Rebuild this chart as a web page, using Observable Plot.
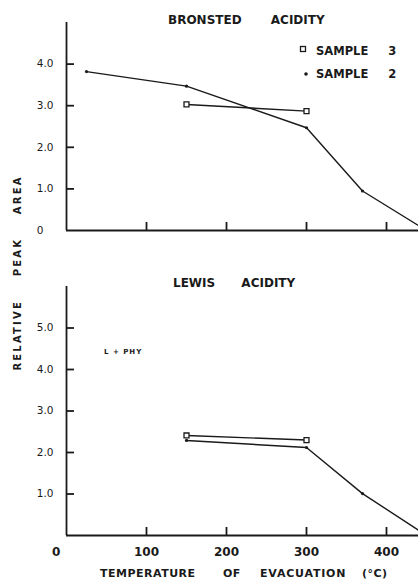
<!DOCTYPE html>
<html>
<head>
<meta charset="utf-8">
<script src="https://cdn.jsdelivr.net/npm/d3@7"></script>
<script src="https://cdn.jsdelivr.net/npm/@observablehq/plot@0.6"></script>
<style>
  html, body { margin: 0; padding: 0; background: #fff; }
  #wrap { position: relative; width: 418px; height: 580px; background: #fff; overflow: hidden;
          font-family: 'DejaVu Sans', sans-serif; font-weight: bold; color: #1a1a1a; }
  .abs { position: absolute; white-space: pre; line-height: 1; }
  #top { position: absolute; left: 0; top: 0; }
  #bot { position: absolute; left: 0; top: 270px; }
</style>
</head>
<body>
<div id="wrap">
  <div id="top"></div>
  <div id="bot"></div>
  <div class="abs" style="left:168px;top:14px;font-size:12px;word-spacing:25px;">BRONSTED ACIDITY</div>
  <div class="abs" style="left:173px;top:277px;font-size:12px;word-spacing:22px;">LEWIS ACIDITY</div>
  <svg class="abs" style="left:299px;top:45px;" width="9" height="9"><rect x="1.5" y="1.5" width="5" height="5" fill="#fff" stroke="#1a1a1a" stroke-width="1.3"/></svg>
  <div class="abs" style="left:316px;top:46px;font-size:11.5px;word-spacing:16px;">SAMPLE 3</div>
  <svg class="abs" style="left:302px;top:70px;" width="8" height="8"><circle cx="4" cy="4" r="1.8" fill="#1a1a1a"/></svg>
  <div class="abs" style="left:316px;top:69px;font-size:11.5px;word-spacing:16px;">SAMPLE 2</div>
  <div class="abs" style="left:104px;top:349px;font-size:7px;letter-spacing:1px;">L + PHY</div>
  <div class="abs" style="left:18px;top:273px;font-size:10px;letter-spacing:2.2px;word-spacing:18px;transform:translate(-50%,-50%) rotate(-90deg);">RELATIVE PEAK AREA</div>
  <div class="abs" style="left:100px;top:568px;font-size:11px;letter-spacing:0.5px;">TEMPERATURE</div>
  <div class="abs" style="left:223px;top:568px;font-size:11px;letter-spacing:0.5px;">OF</div>
  <div class="abs" style="left:260px;top:568px;font-size:11px;letter-spacing:0.8px;">EVACUATION</div>
  <div class="abs" style="left:362px;top:568px;font-size:11px;letter-spacing:0.5px;">(°C)</div>
</div>
<script>
// ---- data ----
const bronstedS2Temps = [25, 150, 300, 370, 450];
const bronstedS2 = [3.82, 3.47, 2.47, 0.95, 0.0];
const bronstedS3Temps = [150, 300];
const bronstedS3 = [3.03, 2.87];
const lewisS2Temps = [150, 300, 370, 450];
const lewisS2 = [2.29, 2.12, 1.01, 0.0];
const lewisS3Temps = [150, 300];
const lewisS3 = [2.41, 2.30];
const xTickValues = [100, 200, 300, 400];
const xLabelValues = [0, 100, 200, 300, 400];
const yTicksTop = [0, 1, 2, 3, 4];
const yTicksBottom = [1, 2, 3, 4, 5];

const INK = "#1a1a1a";
const FONT = "'DejaVu Sans', sans-serif";
const zip = (ts, vs) => ts.map((t, i) => ({t, v: vs[i]}));

function panel({s2, s3, yMax, yTicks, xLabels, height, marginTop, marginBottom}) {
  const yFmt = d => d === 0 ? "0\u00a0\u00a0\u00a0" : d.toFixed(1);
  const xFmt = d => d === 0 ? "0\u00a0\u00a0\u00a0\u00a0\u00a0" : String(d);
  return Plot.plot({
    width: 418, height, marginLeft: 66, marginRight: 0, marginTop, marginBottom,
    style: {background: "transparent", color: INK, fontFamily: FONT, fontWeight: "bold", overflow: "visible"},
    x: {domain: [0, 440]},
    y: {domain: [0, yMax]},
    marks: [
      Plot.ruleX([0], {stroke: INK, strokeWidth: 1.8}),
      Plot.ruleY([0], {stroke: INK, strokeWidth: 1.8}),
      Plot.axisX(xTickValues, {tickSize: -8, tickFormat: () => "", strokeWidth: 1.8, label: null}),
      Plot.axisY(yTicks.filter(d => d > 0), {tickSize: -8, tickFormat: () => "", strokeWidth: 1.8, label: null}),
      Plot.axisY(yTicks, {tickSize: 0, tickPadding: 13, tickFormat: yFmt, fontSize: 10.5, fontWeight: "normal", label: null}),
      xLabels ? Plot.axisX(xLabelValues, {tickSize: 0, tickPadding: 12, tickFormat: xFmt, fontSize: 12, label: null}) : null,
      Plot.line(s2, {x: "t", y: "v", stroke: INK, strokeWidth: 1.4, clip: true}),
      Plot.line(s3, {x: "t", y: "v", stroke: INK, strokeWidth: 1.4, clip: true}),
      Plot.dot(s2, {x: "t", y: "v", r: 1.6, fill: INK, clip: true}),
      Plot.dot(s3, {x: "t", y: "v", symbol: "square", r: 2.8, fill: "white", stroke: INK, strokeWidth: 1.3})
    ]
  });
}

document.getElementById("top").append(panel({
  s2: zip(bronstedS2Temps, bronstedS2), s3: zip(bronstedS3Temps, bronstedS3),
  yMax: 5, yTicks: yTicksTop, xLabels: false, height: 270, marginTop: 22, marginBottom: 40
}));
document.getElementById("bot").append(panel({
  s2: zip(lewisS2Temps, lewisS2), s3: zip(lewisS3Temps, lewisS3),
  yMax: 6, yTicks: yTicksBottom, xLabels: true, height: 310, marginTop: 16, marginBottom: 45
}));
</script>
</body>
</html>
